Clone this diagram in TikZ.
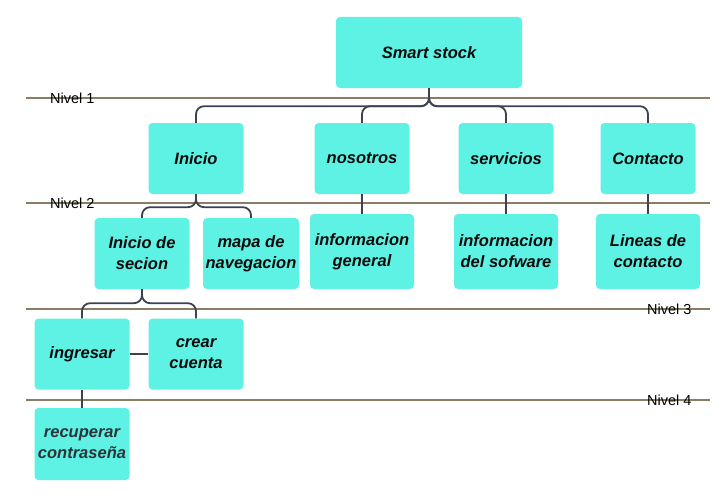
\documentclass[tikz,border=0pt]{standalone}
\usepackage{fontspec}
\setmainfont{Liberation Sans}
\definecolor{boxfill}{RGB}{94,242,228}
\definecolor{levelline}{RGB}{138,125,100}
\definecolor{conn}{RGB}{60,66,78}
\definecolor{txt}{RGB}{10,10,10}
\begin{document}
\begin{tikzpicture}[x=1pt,y=-1pt,
  box/.style={fill=boxfill,rounded corners=4pt,inner sep=0pt,align=center,
    font=\fontsize{16.5}{21}\selectfont\bfseries\itshape,text=txt},
  lvl/.style={draw=levelline,line width=2pt},
  lvltext/.style={font=\fontsize{14.5}{16}\selectfont,anchor=west,inner sep=0pt,text=black},
  link/.style={draw=conn,line width=1.8pt,rounded corners=8pt}]
\useasboundingbox (0,0) rectangle (728,503);
% level lines
\coordinate (l1a) at (26,98);  \coordinate (l1b) at (710,98);
\coordinate (l2a) at (26,203); \coordinate (l2b) at (710,203);
\coordinate (l3a) at (26,309); \coordinate (l3b) at (710,309);
\coordinate (l4a) at (26,400); \coordinate (l4b) at (710,400);
\draw[lvl] (l1a) -- (l1b);
\draw[lvl] (l2a) -- (l2b);
\draw[lvl] (l3a) -- (l3b);
\draw[lvl] (l4a) -- (l4b);
% boxes
\node[box,minimum width=186pt,minimum height=71pt] (smart) at (429,52.5) {Smart stock};
\node[box,minimum width=95pt,minimum height=71pt] (inicio) at (196,158.5) {Inicio};
\node[box,minimum width=95pt,minimum height=71pt] (nosotros) at (362,158.5) {nosotros};
\node[box,minimum width=95pt,minimum height=71pt] (servicios) at (506,158.5) {servicios};
\node[box,minimum width=95pt,minimum height=71pt] (contacto) at (648,158.5) {Contacto};
\node[box,minimum width=95pt,minimum height=71pt] (secion) at (142,253.5) {Inicio de\\secion};
\node[box,minimum width=96pt,minimum height=71pt] (mapa) at (251,253.5) {mapa de\\navegacion};
\node[box,minimum width=104pt,minimum height=75pt] (infog) at (362,251.5) {informacion\\general};
\node[box,minimum width=104pt,minimum height=75pt] (infos) at (506,251.5) {informacion\\del sofware};
\node[box,minimum width=104pt,minimum height=75pt] (lineas) at (648,251.5) {Lineas de\\contacto};
\node[box,minimum width=95pt,minimum height=71pt] (ingresar) at (82,354) {ingresar};
\node[box,minimum width=95pt,minimum height=71pt] (crear) at (196,354) {crear\\cuenta};
\node[box,minimum width=95pt,minimum height=72pt,text={rgb,255:red,45;green,50;blue,55}] (recuperar) at (82,444) {recuperar\\contraseña};
% level labels
\node[lvltext] (n1) at (50,98) {Nivel 1};
\node[lvltext] (n2) at (50,203) {Nivel 2};
\node[lvltext] (n3) at (647,309) {Nivel 3};
\node[lvltext] (n4) at (647,400) {Nivel 4};
% connectors
\foreach \c in {inicio,nosotros,servicios,contacto}{
  \draw[link] (smart.south) -- ++(0,18) -| (\c.north);
}
\foreach \c in {secion,mapa}{
  \draw[link] (inicio.south) -- ++(0,13) -| (\c.north);
}
\draw[link] (nosotros.south) -- (infog.north);
\draw[link] (servicios.south) -- (infos.north);
\draw[link] (contacto.south) -- (lineas.north);
\foreach \c in {ingresar,crear}{
  \draw[link] (secion.south) -- ++(0,14) -| (\c.north);
}
\draw[link] (ingresar.east) -- (crear.west);
\draw[link] (ingresar.south) -- (recuperar.north);
\end{tikzpicture}
\end{document}
